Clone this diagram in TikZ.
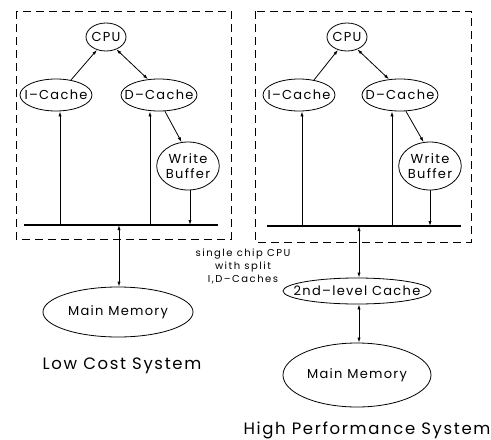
\documentclass[tikz,border=0pt]{standalone}
\usepackage{fontspec}
\newfontfamily\plotfont[LetterSpace=10]{Poppins}
\usetikzlibrary{shapes.geometric,arrows.meta}
\newcommand\zbox[1]{\makebox[0pt]{#1}}
\begin{document}
\begin{tikzpicture}[x=1pt,y=-1pt,
  blk/.style={draw, ellipse, inner sep=0pt, line width=0.8pt,
    font=\plotfont\fontsize{13}{15}\selectfont},
  tip/.tip={Latex[length=5pt,width=3.2pt]},
  arr/.style={-tip, line width=0.8pt},
  darr/.style={tip-tip, line width=0.8pt},
  plain/.style={line width=0.8pt},
  dbox/.style={dash pattern=on 8pt off 5pt, line width=0.9pt},
  bus/.style={line width=1.6pt},
  note/.style={font=\plotfont\addfontfeatures{LetterSpace=15}\fontsize{10}{13}\selectfont, align=center, inner sep=0pt},
  title/.style={font=\plotfont\fontsize{16.5}{19}\selectfont, inner sep=0pt}
]
\useasboundingbox (0,0) rectangle (491,440);

% ---------- Low cost system ----------
\draw[dbox] (16,11) rectangle (231,239);
\node[blk, minimum width=40pt, minimum height=28pt] (cpuL) at (106,37) {\zbox{CPU}};
\node[blk, minimum width=72pt, minimum height=32pt] (icL) at (56,95) {\zbox{I–Cache}};
\node[blk, minimum width=76pt, minimum height=32pt] (dcL) at (159,95) {\zbox{D–Cache}};
\node[blk, minimum width=56pt, minimum height=48pt, align=center] (wbL) at (188,166) {Write\\Buffer};
\node[blk, minimum width=150pt, minimum height=50pt] (mmL) at (118,312) {\zbox{Main Memory}};

\coordinate (busLa) at (24,225);
\coordinate (busLb) at (218,225);
\draw[bus] (busLa) -- (busLb);

\coordinate (icLb) at ([xshift=4pt]icL.south);
\coordinate (dcLb) at ([xshift=-9pt]dcL.south);
\coordinate (wbLb) at ([xshift=2pt]wbL.south);
\coordinate (mmLt) at ([xshift=1pt]mmL.north);

\draw[arr] (icL.45) -- (cpuL.-125);
\draw[darr] (cpuL.-50) -- (dcL.125);
\draw[arr] (dcL.-70) -- (wbL.105);
\draw[arr] (icLb |- busLa) -- (icLb);
\draw[arr] (dcLb |- busLa) -- (dcLb);
\draw[arr] (wbLb) -- (wbLb |- busLa);
\draw[darr] (mmLt |- busLa) -- (mmLt);

\node[title] (lowcost) at (122,366) {Low Cost System};

% ---------- note ----------
\node[note] (note) at (243,266) {single chip CPU\\with split\\I,D–Caches};

% ---------- High performance system ----------
\draw[dbox] (255,11) rectangle (471,242);
\node[blk, minimum width=40pt, minimum height=28pt] (cpuR) at (347,37) {\zbox{CPU}};
\node[blk, minimum width=72pt, minimum height=32pt] (icR) at (299,95) {\zbox{I–Cache}};
\node[blk, minimum width=76pt, minimum height=32pt] (dcR) at (400,95) {\zbox{D–Cache}};
\node[blk, minimum width=56pt, minimum height=48pt, align=center] (wbR) at (430,166) {Write\\Buffer};
\node[blk, minimum width=148pt, minimum height=26pt] (l2) at (357,291) {\zbox{2nd–level Cache}};
\node[blk, minimum width=148pt, minimum height=64pt] (mmR) at (357,375) {\zbox{Main Memory}};

\coordinate (busRa) at (267,226);
\coordinate (busRb) at (461,226);
\draw[bus] (busRa) -- (busRb);

\coordinate (icRb) at ([xshift=3pt]icR.south);
\coordinate (dcRb) at ([xshift=-8pt]dcR.south);
\coordinate (wbRb) at (wbR.south);
\coordinate (l2t) at ([xshift=2pt]l2.north);
\coordinate (l2b) at ([xshift=2pt]l2.south);
\coordinate (mmRt) at ([xshift=2pt]mmR.north);

\draw[arr] (icR.45) -- (cpuR.-125);
\draw[darr] (cpuR.-50) -- (dcR.125);
\draw[arr] (dcR.-70) -- (wbR.105);
\draw[arr] (icRb |- busRa) -- (icRb);
\draw[arr] (dcRb |- busRa) -- (dcRb);
\draw[arr] (wbRb) -- (wbRb |- busRa);
\draw[darr] (l2t |- busRa) -- (l2t);
\draw[darr] (l2b) -- (mmRt);

\node[title] (highperf) at (367,430) {High Performance System};
\end{tikzpicture}
\end{document}
